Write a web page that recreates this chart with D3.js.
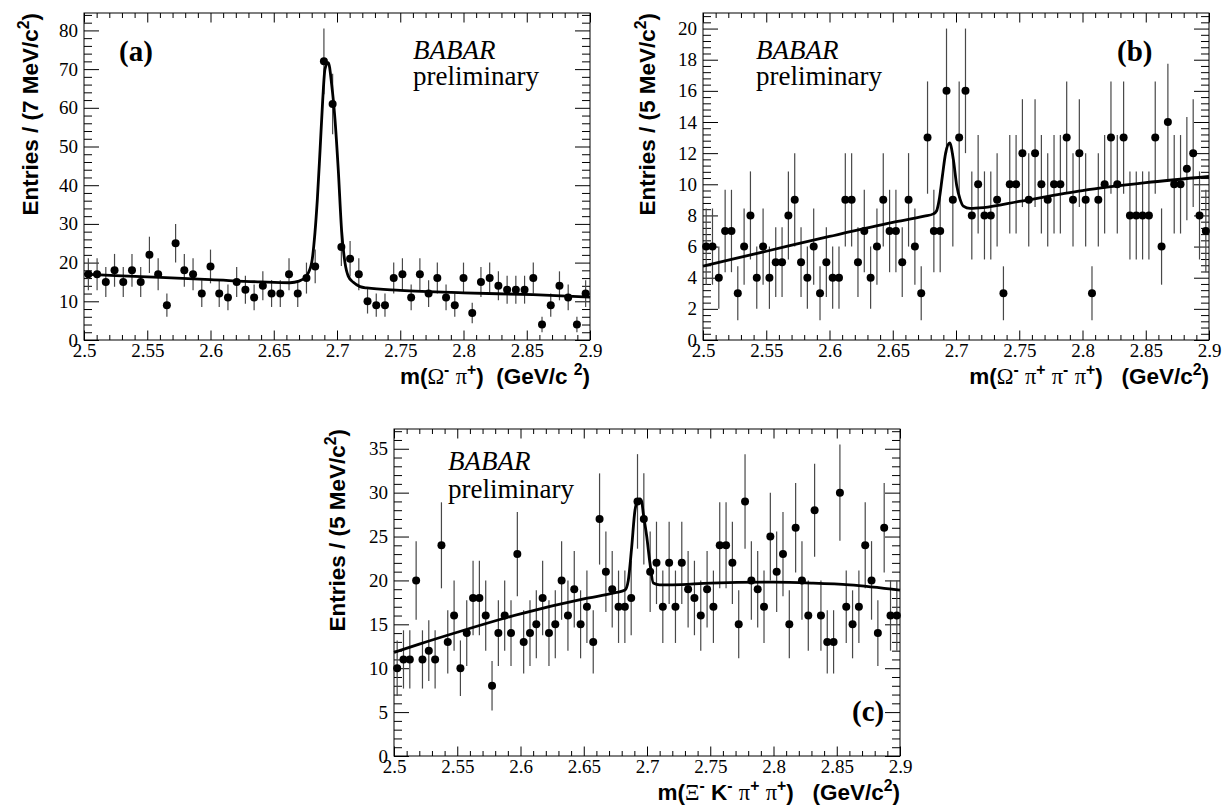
<!DOCTYPE html>
<html>
<head>
<meta charset="utf-8">
<title>BABAR mass spectra</title>
<script src="https://cdn.jsdelivr.net/npm/d3@7/dist/d3.min.js"></script>
<style>
  body { margin: 0; background: #fff; }
  svg { display: block; }
  text { white-space: pre; }
  .tick text { font-family: "Liberation Serif", "Times New Roman", serif; font-size: 19px; fill: #000; }
  .tick line { stroke: #000; stroke-width: 1; }
</style>
</head>
<body>
<svg id="fig" width="1228" height="806"></svg>
<script>
"use strict";

// shared mass axis, GeV/c^2
var massRange = [2.5, 2.9];
var xTickValues = [2.5, 2.55, 2.6, 2.65, 2.7, 2.75, 2.8, 2.85, 2.9];
var xTickLabels = ["2.5", "2.55", "2.6", "2.65", "2.7", "2.75", "2.8", "2.85", "2.9"];

// (a) m(Omega- pi+), 58 bins
var entriesA = [17, 17, 15, 18, 15, 18, 15, 22, 17, 9, 25, 18, 17, 12, 19, 12, 11, 15, 13, 11,
  14, 12, 12, 17, 12, 16, 19, 72, 61, 24, 21, 17, 10, 9, 9, 16, 17, 11, 17, 12,
  16, 11, 9, 16, 7, 15, 16, 14, 13, 13, 13, 16, 4, 9, 14, 11, 4, 12];
var fitMassA = [2.5, 2.55, 2.6, 2.64, 2.6628, 2.67, 2.676, 2.68, 2.6826, 2.6844, 2.6866, 2.6887, 2.6905,
  2.6931, 2.6958, 2.6984, 2.701, 2.7037, 2.7063, 2.7089, 2.7129, 2.7182, 2.7235, 2.75, 2.8, 2.855, 2.9];
var fitValA = [17.0, 16.3, 15.6, 15.0, 14.8, 15.2, 16.6, 20, 27.8, 36, 49, 62, 70,
  71.7, 66, 57, 44, 28, 20, 16.5, 14.9, 13.8, 13.45, 12.85, 12.2, 11.7, 11.1];
var yTicksA = [0, 10, 20, 30, 40, 50, 60, 70, 80];
var yTickLabelsA = ["0", "10", "20", "30", "40", "50", "60", "70", "80"];

// (b) m(Omega- pi+ pi- pi+), 80 bins
var entriesB = [6, 6, 4, 7, 7, 3, 6, 8, 4, 6, 4, 5, 5, 8, 9, 5, 4, 6, 3, 5,
  4, 4, 9, 9, 5, 7, 4, 6, 9, 7, 7, 5, 9, 6, 3, 13, 7, 7, 16, 9,
  13, 16, 8, 10, 8, 8, 9, 3, 10, 10, 12, 9, 12, 10, 9, 10, 10, 13, 9, 12,
  9, 3, 9, 10, 13, 10, 13, 8, 8, 8, 8, 13, 6, 14, 10, 10, 11, 12, 8, 7];
var fitMassB = [2.5, 2.55, 2.6, 2.65, 2.675, 2.6821, 2.6847, 2.6868, 2.6892, 2.6918, 2.695, 2.6979,
  2.7006, 2.7032, 2.7058, 2.7111, 2.7216, 2.75, 2.8, 2.85, 2.9];
var fitValB = [4.75, 5.7, 6.65, 7.55, 7.95, 8.1, 8.3, 9.05, 10.5, 12.0, 12.65, 11.6,
  9.9, 9.05, 8.6, 8.45, 8.5, 8.9, 9.6, 10.1, 10.5];
var yTicksB = [0, 2, 4, 6, 8, 10, 12, 14, 16, 18, 20];
var yTickLabelsB = ["0", "2", "4", "6", "8", "10", "12", "14", "16", "18", "20"];

// (c) m(Xi- K- pi+ pi+), 80 bins
var entriesC = [10, 11, 11, 20, 11, 12, 11, 24, 13, 16, 10, 14, 18, 18, 16, 8, 14, 16, 14, 23,
  13, 14, 15, 18, 14, 15, 20, 16, 19, 15, 17, 13, 27, 21, 19, 17, 17, 18, 29, 27,
  21, 22, 17, 22, 17, 22, 19, 18, 16, 19, 17, 24, 24, 22, 15, 29, 20, 19, 17, 25,
  21, 23, 15, 26, 20, 16, 28, 16, 13, 13, 30, 17, 15, 17, 24, 20, 14, 26, 16, 16];
var fitMassC = [2.5, 2.52, 2.55, 2.6, 2.65, 2.675, 2.6826, 2.6852, 2.6879, 2.6905, 2.6931, 2.6945,
  2.6958, 2.6971, 2.6998, 2.7024, 2.705, 2.71, 2.72, 2.75, 2.8, 2.83, 2.86, 2.9];
var fitValC = [11.8, 12.75, 14.1, 16.2, 17.9, 18.6, 18.9, 20.0, 23.8, 28, 29.2, 29.3,
  29.0, 27.6, 25, 21.9, 19.7, 19.5, 19.5, 19.7, 19.8, 19.7, 19.5, 18.9];
var yTicksC = [0, 5, 10, 15, 20, 25, 30, 35];
var yTickLabelsC = ["0", "5", "10", "15", "20", "25", "30", "35"];

// axis titles: text pieces, g = greek (serif), s = superscript
var yTitleA = [["Entries / (7 MeV/c"], ["2", "s"], [")"]];
var yTitle5 = [["Entries / (5 MeV/c"], ["2", "s"], [")"]];
var xTitleA = [["m("], ["\u03A9", "g"], ["-", "s"], [" "], ["\u03C0", "g"], ["+", "s"], [")  (GeV/c "], ["2", "s"], [")"]];
var xTitleB = [["m("], ["\u03A9", "g"], ["-", "s"], [" "], ["\u03C0", "g"], ["+", "s"], [" "], ["\u03C0", "g"], ["-", "s"],
  [" "], ["\u03C0", "g"], ["+", "s"], [")   (GeV/c"], ["2", "s"], [")"]];
var xTitleC = [["m("], ["\u039E", "g"], ["-", "s"], [" K"], ["-", "s"], [" "], ["\u03C0", "g"], ["+", "s"], [" "],
  ["\u03C0", "g"], ["+", "s"], [")   (GeV/c"], ["2", "s"], [")"]];

var SANS = "'Liberation Sans', Arial, Helvetica, sans-serif";
var SERIF = "'Liberation Serif', 'Times New Roman', serif";
var FW = 506, FH = 327;

var svg = d3.select("#fig");
svg.append("rect").attr("width", 1228).attr("height", 806).attr("fill", "#fff");

function richText(sel, parts, size) {
  var up = false, shift = size * 0.4;
  parts.forEach(function(p) {
    var isSup = p[1] === "s", isGreek = p[1] === "g";
    var t = sel.append("tspan").text(p[0])
      .attr("font-family", isGreek ? SERIF : SANS)
      .attr("font-weight", isGreek ? "normal" : "bold")
      .attr("font-size", isSup ? size * 0.7 : size);
    if (isSup && !up) { t.attr("dy", -shift); up = true; }
    else if (!isSup && up) { t.attr("dy", shift); up = false; }
  });
}

function minorTicks(step, lo, hi, majors) {
  var out = [];
  for (var i = 0; lo + i * step <= hi + 1e-9; i++) {
    var v = +(lo + i * step).toFixed(4);
    if (!majors.some(function(m) { return Math.abs(m - v) < 1e-6; })) out.push(v);
  }
  return out;
}

function drawPanel(p) {
  var g = svg.append("g").attr("transform", "translate(" + p.left + "," + p.top + ")");
  var x = d3.scaleLinear().domain(massRange).range([0, FW]);
  var y = d3.scaleLinear().domain([0, p.ymax]).range([FH, 0]);

  var xMinor = minorTicks(0.01, 2.5, 2.9, xTickValues);
  var yMinor = minorTicks(p.yMinorStep, 0, p.ymax, p.yTicks);

  function strip(a) { a.select(".domain").remove(); return a; }

  // bottom
  strip(g.append("g").attr("transform", "translate(0," + FH + ")")
    .call(d3.axisBottom(x).tickValues(xTickValues)
      .tickFormat(function(d, i) { return xTickLabels[i]; })
      .tickSizeInner(-9.5).tickSizeOuter(0).tickPadding(3)));
  strip(g.append("g").attr("transform", "translate(0," + FH + ")")
    .call(d3.axisBottom(x).tickValues(xMinor).tickFormat("").tickSizeInner(-5).tickSizeOuter(0)));
  // top
  strip(g.append("g").call(d3.axisTop(x).tickValues(xTickValues).tickFormat("").tickSizeInner(-9.5).tickSizeOuter(0)));
  strip(g.append("g").call(d3.axisTop(x).tickValues(xMinor).tickFormat("").tickSizeInner(-5).tickSizeOuter(0)));
  // left
  strip(g.append("g")
    .call(d3.axisLeft(y).tickValues(p.yTicks)
      .tickFormat(function(d, i) { return p.yLabels[i]; })
      .tickSizeInner(-15).tickSizeOuter(0).tickPadding(6)));
  strip(g.append("g").call(d3.axisLeft(y).tickValues(yMinor).tickFormat("").tickSizeInner(-8).tickSizeOuter(0)));
  // right
  strip(g.append("g").attr("transform", "translate(" + FW + ",0)")
    .call(d3.axisRight(y).tickValues(p.yTicks).tickFormat("").tickSizeInner(-15).tickSizeOuter(0)));
  strip(g.append("g").attr("transform", "translate(" + FW + ",0)")
    .call(d3.axisRight(y).tickValues(yMinor).tickFormat("").tickSizeInner(-8).tickSizeOuter(0)));

  g.append("rect").attr("width", FW).attr("height", FH)
    .attr("fill", "none").attr("stroke", "#000").attr("stroke-width", 1);

  var binW = (massRange[1] - massRange[0]) / p.entries.length;
  var pts = p.entries.map(function(n, i) { return { m: massRange[0] + (i + 0.5) * binW, n: n }; });

  g.append("g").selectAll("line").data(pts).enter().append("line")
    .attr("x1", function(d) { return x(d.m); })
    .attr("x2", function(d) { return x(d.m); })
    .attr("y1", function(d) { return y(d.n - Math.sqrt(d.n)); })
    .attr("y2", function(d) { return y(d.n + Math.sqrt(d.n)); })
    .attr("stroke", "#484848").attr("stroke-width", 1.2);

  var fit = d3.line()
    .x(function(d) { return x(d[0]); })
    .y(function(d) { return y(d[1]); })
    .curve(d3.curveMonotoneX);
  g.append("path")
    .datum(p.fitMass.map(function(m, i) { return [m, p.fitVal[i]]; }))
    .attr("d", fit).attr("fill", "none").attr("stroke", "#000").attr("stroke-width", 2.8)
    .attr("stroke-linejoin", "round");

  g.append("g").selectAll("circle").data(pts).enter().append("circle")
    .attr("cx", function(d) { return x(d.m); })
    .attr("cy", function(d) { return y(d.n); })
    .attr("r", 4).attr("fill", "#000");

  // axis titles
  var yt = svg.append("text").attr("text-anchor", "end")
    .attr("transform", "translate(" + (p.left - p.yTitleOff) + "," + p.top + ") rotate(-90)");
  richText(yt, p.yTitle, 22.5);
  var xt = svg.append("text").attr("text-anchor", "end")
    .attr("x", p.left + FW).attr("y", p.top + FH + 44);
  richText(xt, p.xTitle, 22.5);

  // labels
  svg.append("text").attr("x", p.tag[0]).attr("y", p.tag[1]).text(p.tag[2])
    .attr("font-family", SERIF).attr("font-weight", "bold").attr("font-size", 29);
  svg.append("text").attr("x", p.babar[0]).attr("y", p.babar[1]).text("BABAR")
    .attr("font-family", SERIF).attr("font-style", "italic").attr("font-size", 27);
  svg.append("text").attr("x", p.babar[0]).attr("y", p.babar[1] + p.prelimGap).text("preliminary")
    .attr("font-family", SERIF).attr("font-size", 27);
}

drawPanel({ left: 84, top: 13, ymax: 84.5, yTicks: yTicksA, yLabels: yTickLabelsA, yMinorStep: 2,
  entries: entriesA, fitMass: fitMassA, fitVal: fitValA, yTitle: yTitleA, xTitle: xTitleA, yTitleOff: 46,
  tag: [119, 61, "(a)"], babar: [413, 59], prelimGap: 26 });
drawPanel({ left: 703, top: 13, ymax: 21, yTicks: yTicksB, yLabels: yTickLabelsB, yMinorStep: 0.4,
  entries: entriesB, fitMass: fitMassB, fitVal: fitValB, yTitle: yTitle5, xTitle: xTitleB, yTitleOff: 48,
  tag: [1117, 61, "(b)"], babar: [756, 59], prelimGap: 26 });
drawPanel({ left: 394, top: 429, ymax: 37.25, yTicks: yTicksC, yLabels: yTickLabelsC, yMinorStep: 1,
  entries: entriesC, fitMass: fitMassC, fitVal: fitValC, yTitle: yTitle5, xTitle: xTitleC, yTitleOff: 49,
  tag: [852, 721, "(c)"], babar: [448, 470], prelimGap: 28 });
</script>
</body>
</html>
